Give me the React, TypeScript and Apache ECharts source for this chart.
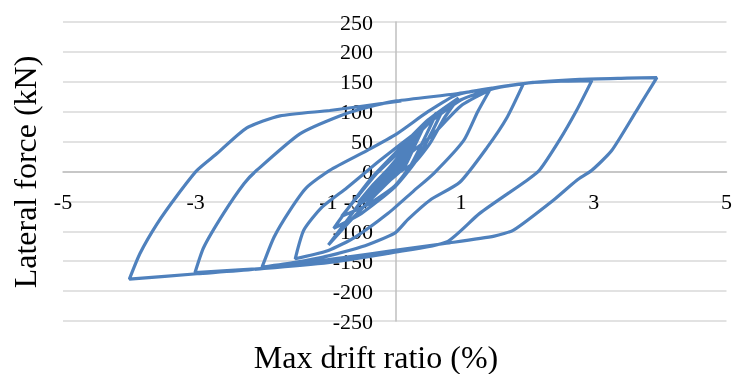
import React, { useEffect, useRef } from "react";
import * as echarts from "echarts";

// Drift ratio (%) / lateral force (kN) pairs, one array per loading cycle
const cycle01: [number, number][] = [[0, 0], [0.06, 15], [0.12, 30], [0.07, 14], [0.0, -3], [-0.1, -14], [-0.2, -25], [-0.11, -11], [-0.02, 3]];
const cycle02: [number, number][] = [[0.1, 26], [0.2, 50], [0.13, 27], [0.04, 2], [-0.12, -18], [-0.27, -35], [-0.16, -16], [-0.04, 3]];
const cycle02b: [number, number][] = [[0.1, 24], [0.21, 47], [0.14, 25], [0.05, 1], [-0.12, -17], [-0.28, -33], [-0.17, -15], [-0.05, 2]];
const cycle03: [number, number][] = [[0.14, 32], [0.3, 62], [0.2, 36], [0.08, 6], [-0.15, -22], [-0.42, -45], [-0.26, -22], [-0.06, 4]];
const cycle03b: [number, number][] = [[0.15, 30], [0.31, 58], [0.21, 33], [0.09, 4], [-0.16, -21], [-0.43, -42], [-0.27, -20], [-0.07, 3]];
const cycle04: [number, number][] = [[0.2, 40], [0.41, 75], [0.29, 46], [0.13, 9], [-0.2, -28], [-0.53, -55], [-0.32, -26], [-0.09, 5]];
const cycle04b: [number, number][] = [[0.21, 38], [0.42, 71], [0.3, 43], [0.14, 7], [-0.21, -27], [-0.55, -52], [-0.34, -24], [-0.1, 4]];
const cycle05: [number, number][] = [[0.3, 57], [0.63, 98], [0.46, 58], [0.25, 12], [0.0, -24], [-0.4, -55], [-0.8, -75], [-0.56, -42], [-0.26, -2]];
const cycle06: [number, number][] = [[0.25, 52], [0.73, 105], [0.56, 66], [0.31, 16], [0.0, -26], [-0.5, -70], [-0.92, -95], [-0.7, -61], [-0.36, -12]];
const cycle07: [number, number][] = [[0.0, 30], [0.5, 86], [0.96, 123], [0.75, 90], [0.53, 47], [0.3, 15], [0.03, -4], [-0.3, -40], [-0.7, -86], [-1.0, -123], [-0.72, -82], [-0.38, -32], [0.03, 13], [0.53, 57], [1.0, 110]];
const cycle08: [number, number][] = [[1.43, 136], [1.25, 100], [1.04, 52], [0.59, -3], [0.29, -32], [-0.1, -70], [-0.6, -110], [-1.0, -132], [-1.5, -146], [-1.37, -98], [-1.1, -60], [-0.72, -27], [-0.23, 18], [0.4, 72], [1.0, 120], [1.5, 139]];
const cycle09: [number, number][] = [[1.94, 147], [1.69, 90], [1.39, 40], [0.98, -18], [0.53, -48], [0.2, -80], [0.0, -103], [-0.5, -126], [-1.0, -141], [-1.5, -152], [-2.0, -160], [-1.82, -110], [-1.58, -65], [-1.33, -27], [-0.98, 2], [-0.42, 35], [0.03, 63], [0.5, 100], [0.93, 128], [1.5, 140], [2.0, 148], [2.5, 151]];
const cycle10: [number, number][] = [[2.97, 152], [2.74, 102], [2.48, 52], [2.18, 2], [1.99, -15], [1.28, -70], [0.78, -118], [0.0, -135], [-0.98, -152], [-1.97, -162], [-3.01, -169], [-2.88, -127], [-2.58, -70], [-2.27, -20], [-2.08, 2], [-1.43, 63], [-0.83, 93], [-0.42, 107], [0.03, 118], [0.93, 130], [1.94, 147], [2.79, 154], [3.5, 156]];
const cycle11: [number, number][] = [[3.95, 157], [3.8, 130], [3.64, 101], [3.27, 35], [2.97, 2], [2.74, -15], [2.39, -48], [1.79, -98], [1.5, -108], [0.78, -120], [0.0, -132], [-0.72, -143], [-1.97, -162], [-2.98, -171], [-4.0, -180], [-3.84, -137], [-3.58, -87], [-3.28, -40], [-2.98, 2], [-2.68, 30], [-2.23, 73], [-1.73, 93], [-0.98, 102], [-0.23, 113], [0.1, 118]];

const cycles = [cycle01, cycle02, cycle02b, cycle03, cycle03b, cycle04, cycle04b, cycle05, cycle06, cycle07, cycle08, cycle09, cycle10, cycle11];

const xAxisTitle = "Max drift ratio (%)";
const yAxisTitle = "Lateral force (kN)";

const FONT = "Liberation Serif";

export default function App() {
  const ref = useRef<HTMLDivElement>(null);
  useEffect(() => {
    if (!ref.current) return;
    const chart = echarts.init(ref.current, null, { renderer: "svg" });
    const data = cycles.flat();
    chart.setOption({
      animation: false,
      grid: { left: 63, right: 6, top: 22, bottom: 53, containLabel: false },
      xAxis: {
        type: "value",
        min: -5,
        max: 5,
        interval: 2,
        position: "bottom",
        offset: -149.5,
        axisLine: { show: true, onZero: false, lineStyle: { color: "#BFBFBF", width: 1.5 } },
        axisTick: { show: false },
        splitLine: { show: false },
        axisLabel: { fontSize: 22, fontFamily: FONT, color: "#000", margin: 19 },
      },
      yAxis: {
        type: "value",
        min: -250,
        max: 250,
        interval: 50,
        position: "left",
        offset: -333,
        axisLine: { show: true, onZero: false, lineStyle: { color: "#BFBFBF", width: 1.5 } },
        axisTick: { show: false },
        splitLine: { show: true, lineStyle: { color: "#D9D9D9", width: 1.5 } },
        axisLabel: { fontSize: 22, fontFamily: FONT, color: "#000", margin: 23 },
      },
      graphic: [
        {
          type: "text",
          x: 376,
          y: 357,
          style: { text: xAxisTitle, font: `32px "${FONT}"`, fill: "#000", align: "center", verticalAlign: "middle" },
        },
        {
          type: "text",
          x: 25,
          y: 172,
          rotation: Math.PI / 2,
          style: { text: yAxisTitle, font: `32px "${FONT}"`, fill: "#000", align: "center", verticalAlign: "middle" },
        },
      ],
      series: [
        {
          type: "line",
          data,
          showSymbol: false,
          symbol: "none",
          smooth: 0.2,
          lineStyle: { color: "#4F81BD", width: 3.2 },
          z: 3,
        },
      ],
    });
    return () => chart.dispose();
  }, []);
  return <div ref={ref} style={{ position: "fixed", left: 0, top: 0, width: 735, height: 374 }} />;
}
